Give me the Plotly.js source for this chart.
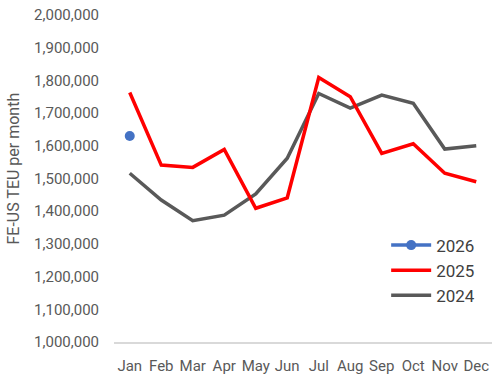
<!DOCTYPE html>
<html><head><meta charset="utf-8">
<script src="https://cdn.plot.ly/plotly-3.0.1.min.js"></script>
<style>html,body{margin:0;padding:0;background:#fff}</style>
</head><body><div id="chart" style="width:500px;height:381px"></div>
<script>
const months = ["Jan","Feb","Mar","Apr","May","Jun","Jul","Aug","Sep","Oct","Nov","Dec"];
const values2024 = [1516000,1434000,1371000,1388000,1453000,1562000,1760000,1715000,1755000,1730000,1590000,1600000];
const values2025 = [1763000,1541000,1534000,1589000,1409000,1441000,1809000,1750000,1577000,1606000,1516000,1490000];
const values2026 = [1630000];
const yTicks = [1000000,1100000,1200000,1300000,1400000,1500000,1600000,1700000,1800000,1900000,2000000];

const FONT = "'Roboto', sans-serif";
const traces = [
  {x: months, y: values2024, name: "2024", type: "scatter", mode: "lines",
   line: {color: "#595959", width: 3.5}},
  {x: months, y: values2025, name: "2025", type: "scatter", mode: "lines",
   line: {color: "#ff0000", width: 3.5}},
  {x: months.slice(0, values2026.length), y: values2026, name: "2026", type: "scatter", mode: "lines+markers",
   line: {color: "#4472c4", width: 3.5}, marker: {color: "#4472c4", size: 10}}
];
const layout = {
  width: 500, height: 381,
  margin: {l: 114, r: 8, t: 15, b: 39},
  paper_bgcolor: "#fff", plot_bgcolor: "#fff",
  font: {family: FONT, color: "#595959", size: 15},
  showlegend: true,
  legend: {x: 0.72, y: 0.35, xanchor: "left", yanchor: "top", traceorder: "reversed",
    font: {family: FONT, color: "#404040", size: 17}, bgcolor: "rgba(0,0,0,0)",
    itemwidth: 40, tracegroupgap: 0},
  xaxis: {type: "category", categoryorder: "array", categoryarray: months,
    range: [-0.5, 11.5], showgrid: false, zeroline: false,
    showline: true, linecolor: "#d9d9d9", linewidth: 1.5,
    ticks: "", ticklabelstandoff: 9, tickfont: {family: FONT, size: 15, color: "#595959"}},
  yaxis: {range: [1000000, 2000000], tickvals: yTicks, tickformat: ",d",
    showgrid: false, zeroline: false, showline: false, ticks: "",
    ticklabelstandoff: 14, tickfont: {family: FONT, size: 15, color: "#595959"}},
  annotations: [{text: "FE-US TEU per month", textangle: -90, showarrow: false,
    xref: "paper", x: -0.265, xanchor: "center", yref: "paper", y: 0.53, yanchor: "middle",
    font: {family: FONT, size: 16, color: "#595959"}}]
};
Plotly.newPlot("chart", traces, layout, {displayModeBar: false, staticPlot: true});
</script></body></html>
